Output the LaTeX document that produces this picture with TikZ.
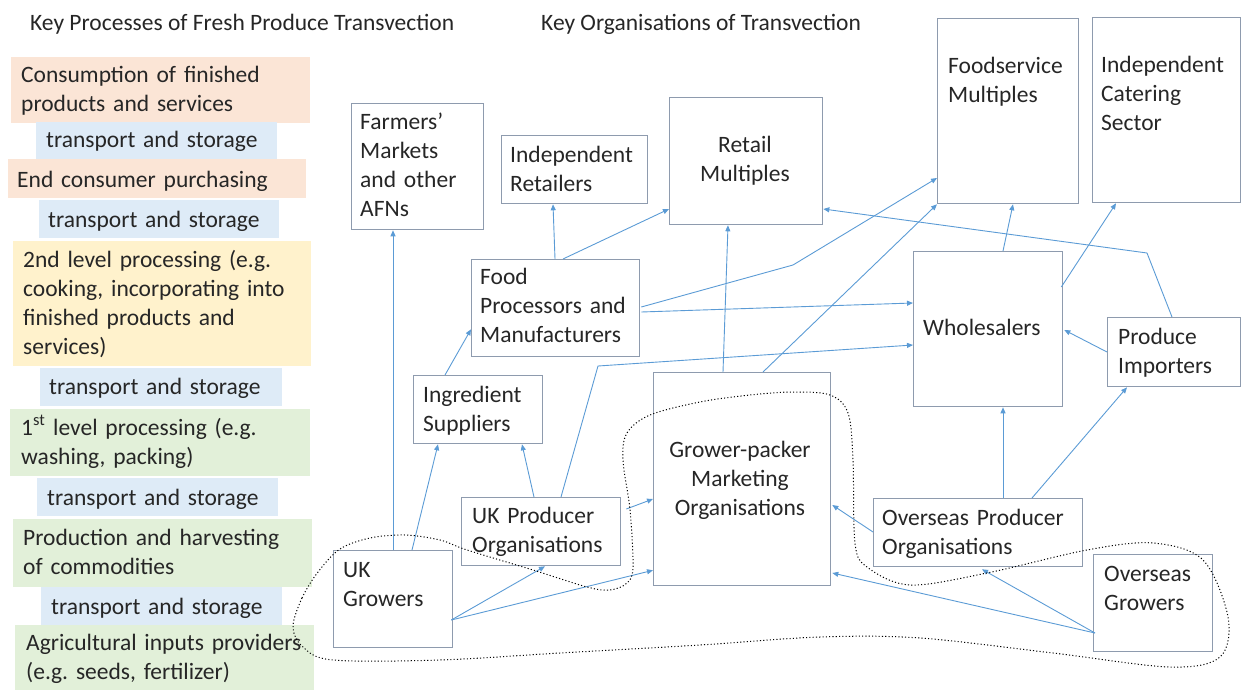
\documentclass[tikz,border=0pt]{standalone}
\usepackage{fontspec}
\setmainfont{Carlito}
\usetikzlibrary{arrows.meta,calc}
\frenchspacing
\definecolor{corange}{HTML}{FBE5D6}
\definecolor{cblue}{HTML}{DEEBF7}
\definecolor{cyellow}{HTML}{FFF2CC}
\definecolor{cgreen}{HTML}{E2F0D9}
\definecolor{boxc}{HTML}{8E9BAE}
\definecolor{arrc}{HTML}{5B9BD5}
\definecolor{txtc}{HTML}{262626}
\tikzset{
  obox/.style={draw=boxc, line width=1.3pt, inner sep=0pt, anchor=north west},
  pbox/.style={draw=none, inner sep=0pt, anchor=north west},
  ttl/.style={font=\fontsize{23.5}{29}\selectfont, text=txtc, inner sep=0pt, anchor=base west},
  txt/.style={font=\fontsize{23.5}{29}\selectfont, text=txtc, inner sep=0pt, text width=420pt, align=left, anchor=base west},
  ctxt/.style={font=\fontsize{23.5}{29}\selectfont, text=txtc, inner sep=0pt, align=center, anchor=base},
  arr/.style={draw=arrc, line width=0.9pt, -{Triangle[length=6pt,width=5pt]}},
  loop/.style={draw=black, line width=1pt, dash pattern=on 1.1pt off 2.2pt}
}
\begin{document}
\begin{tikzpicture}[x=1pt,y=-1pt]
\useasboundingbox (0,0) rectangle (1245,690);

% titles
\node[ttl] (title1) at (30,31) {Key Processes of Fresh Produce Transvection};
\node[ttl] (title2) at (541,31) {Key Organisations of Transvection};

% left column
\node[pbox, fill=corange, minimum width=299pt, minimum height=66pt] (p1) at (11,57) {};
\node[pbox, fill=cblue, minimum width=241pt, minimum height=37pt] (s1) at (36,122) {};
\node[pbox, fill=corange, minimum width=298pt, minimum height=39pt] (p2) at (8,159) {};
\node[pbox, fill=cblue, minimum width=240pt, minimum height=38pt] (s2) at (39,200) {};
\node[pbox, fill=cyellow, minimum width=298pt, minimum height=125pt] (p3) at (13,241) {};
\node[pbox, fill=cblue, minimum width=242pt, minimum height=38pt] (s3) at (40,368) {};
\node[pbox, fill=cgreen, minimum width=300pt, minimum height=67pt] (p4) at (10,409) {};
\node[pbox, fill=cblue, minimum width=241pt, minimum height=38pt] (s4) at (37,478) {};
\node[pbox, fill=cgreen, minimum width=299pt, minimum height=68pt] (p5) at (13,519) {};
\node[pbox, fill=cblue, minimum width=241pt, minimum height=38pt] (s5) at (41,587) {};
\node[pbox, fill=cgreen, minimum width=299pt, minimum height=65pt] (p6) at (15,625) {};

\node[txt] (p1t) at (21,83) {Consumption of finished\\products and services};
\node[txt] (s1t) at (46,148) {transport and storage};
\node[txt] (p2t) at (17,187) {End consumer purchasing};
\node[txt] (s2t) at (48,227) {transport and storage};
\node[txt] (p3t) at (23,267) {2nd level processing (e.g.\\cooking, incorporating into\\finished products and\\services)};
\node[txt] (s3t) at (49,394) {transport and storage};
\node[txt] (p4t) at (21,435) {1\textsuperscript{st} level processing (e.g.\\washing, packing)};
\node[txt] (s4t) at (47,505) {transport and storage};
\node[txt] (p5t) at (23,545) {Production and harvesting\\of commodities};
\node[txt] (s5t) at (51,614) {transport and storage};
\node[txt] (p6t) at (26,650) {Agricultural inputs providers\\(e.g. seeds, fertilizer)};

% organisation boxes
\node[obox, minimum width=132pt, minimum height=126pt] (fm) at (351,103) {};
\node[obox, minimum width=146pt, minimum height=68pt] (ir) at (501,135) {};
\node[obox, minimum width=153pt, minimum height=127pt] (rm) at (669,97) {};
\node[obox, minimum width=141pt, minimum height=185pt] (fs) at (937,18) {};
\node[obox, minimum width=148pt, minimum height=185pt] (ic) at (1092,17) {};
\node[obox, minimum width=168pt, minimum height=97pt] (fp) at (471,259) {};
\node[obox, minimum width=149pt, minimum height=155pt] (wh) at (913,251) {};
\node[obox, minimum width=133pt, minimum height=69pt] (pi) at (1107,317) {};
\node[obox, minimum width=129pt, minimum height=68pt] (is) at (413,375) {};
\node[obox, minimum width=177pt, minimum height=213pt] (gp) at (653,372) {};
\node[obox, minimum width=159pt, minimum height=68pt] (ukp) at (461,497) {};
\node[obox, minimum width=209pt, minimum height=68pt] (op) at (873,498) {};
\node[obox, minimum width=119pt, minimum height=97pt] (ukg) at (333,550) {};
\node[obox, minimum width=119pt, minimum height=97pt] (og) at (1093,554) {};

\node[txt] (fmt) at (360,130) {Farmers’\\Markets\\and other\\AFNs};
\node[txt] (irt) at (510,162) {Independent\\Retailers};
\node[ctxt, text width=153pt] (rmt) at (745,153) {Retail\\Multiples};
\node[txt] (fst) at (948,74) {Foodservice\\Multiples};
\node[txt] (ict) at (1101,73) {Independent\\Catering\\Sector};
\node[txt] (fpt) at (480,284) {Food\\Processors and\\Manufacturers};
\node[txt] (wht) at (923,335) {Wholesalers};
\node[txt] (pit) at (1118,344) {Produce\\Importers};
\node[txt] (ist) at (423,402) {Ingredient\\Suppliers};
\node[ctxt, text width=177pt] (gpt) at (740,457) {Grower-packer\\Marketing\\Organisations};
\node[txt] (ukpt) at (472,523) {UK Producer\\Organisations};
\node[txt] (opt) at (882,525) {Overseas Producer\\Organisations};
\node[txt] (ukgt) at (343,577) {UK\\Growers};
\node[txt] (ogt) at (1104,581) {Overseas\\Growers};

% connector start points
\coordinate (ukgS) at ($(ukg.north east)+(-2,70)$);
\coordinate (ogS) at ($(og.north west)+(2,79)$);
\coordinate (ukpBend) at (598,366);
\coordinate (fpBend) at (793,265);
\coordinate (piBend) at (1147,253);

% connectors
\draw[arr] ($(ukg.north west)+(60,0)$) -- ($(fm.south west)+(42,0)$);
\draw[arr] ($(ukg.north west)+(79,0)$) -- ($(is.south west)+(25,0)$);
\draw[arr] (ukgS) -- ($(ukp.south west)+(84,0)$);
\draw[arr] (ukgS) -- ($(gp.south west)+(0,-16)$);
\draw[arr] ($(is.north west)+(32,0)$) -- ($(fp.south west)+(0,-28)$);
\draw[arr] ($(ukp.north west)+(73,0)$) -- ($(is.south west)+(109,0)$);
\draw[arr] ($(ukp.north west)+(100,0)$) -- (ukpBend) -- ($(wh.north west)+(0,94)$);
\draw[arr] ($(ukp.north east)+(5,12)$) -- ($(gp.north west)+(0,127)$);
\draw[arr] ($(fp.north west)+(84,0)$) -- ($(ir.south west)+(52,0)$);
\draw[arr] ($(fp.north west)+(92,0)$) -- ($(rm.north west)+(0,112)$);
\draw[arr] ($(fp.north east)+(1,48)$) -- (fpBend) -- ($(fs.north west)+(0,160)$);
\draw[arr] ($(fp.north east)+(1,53)$) -- ($(wh.north west)+(0,52)$);
\draw[arr] ($(gp.north west)+(70,0)$) -- ($(rm.south west)+(59,0)$);
\draw[arr] ($(gp.north west)+(110,0)$) -- (fs.south west);
\draw[arr] ($(wh.north west)+(90,0)$) -- ($(fs.south west)+(76,0)$);
\draw[arr] ($(wh.north east)+(-2,36)$) -- ($(ic.south west)+(24,0)$);
\draw[arr] ($(pi.north west)+(65,0)$) -- (piBend) -- ($(rm.north east)+(0,112)$);
\draw[arr] ($(pi.north west)+(0,35)$) -- ($(wh.north east)+(1,79)$);
\draw[arr] ($(op.north west)+(130,0)$) -- ($(wh.south west)+(90,0)$);
\draw[arr] ($(op.north west)+(159,0)$) -- ($(pi.south west)+(20,0)$);
\draw[arr] ($(op.north west)+(0,34)$) -- ($(gp.north east)+(1,133)$);
\draw[arr] (ogS) -- ($(gp.north east)+(1,201)$);
\draw[arr] (ogS) -- ($(op.south west)+(109,2)$);

% dotted grouping outline
\draw[loop] plot[smooth cycle, tension=0.55] coordinates {
 (293,627) (302,598) (318,572) (340,549) (370,538) (405,535) (440,540) (467,550)
 (533,570) (587,587) (610,590) (627,583) (633,567) (630,510) (623,460) (627,433)
 (650,415) (700,402) (750,395) (793,392) (830,395) (848,413) (853,460) (855,543)
 (867,567) (910,585) (987,573) (1087,550) (1153,543) (1203,560) (1228,617) (1220,657)
 (1170,667) (1053,653) (920,638) (820,637) (700,645) (560,653) (440,660) (333,660) (303,647)};
\end{tikzpicture}
\end{document}
